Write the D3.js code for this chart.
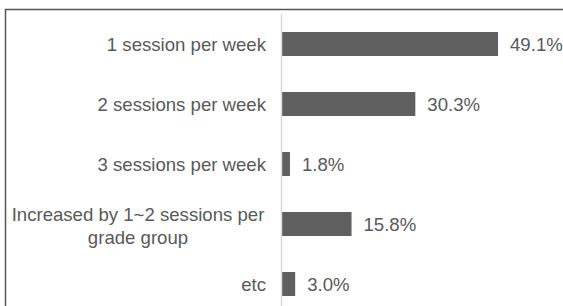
<!DOCTYPE html>
<html>
<head>
<meta charset="utf-8">
<script src="https://cdn.jsdelivr.net/npm/d3@7"></script>
<style>
  html, body { margin: 0; padding: 0; background: #fff; }
  svg { display: block; }
  text { font-family: "Liberation Sans", Arial, sans-serif; fill: #595959; }
</style>
</head>
<body>
<div id="chart"></div>
<script>
var categories = [
    "1 session per week",
    "2 sessions per week",
    "3 sessions per week",
    "Increased by 1~2 sessions per\ngrade group",
    "etc"
];
var values = [49.1, 30.3, 1.8, 15.8, 3.0];

var width = 563, height = 306,
    axisX = 282,
    fontSize = "18.6px";

var svg = d3.select("#chart").append("svg")
        .attr("width", width)
        .attr("height", height);

var yScale = d3.scaleBand()
        .domain(categories)
        .range([14, 314])
        .paddingInner(0.6)
        .paddingOuter(0.3);

var xScale = d3.scaleLinear()
        .domain([0, 50])
        .range([axisX, axisX + 220]);

// frame (top and left edges only)
svg.append("path")
    .attr("d", "M5.5,306V9.5H563")
    .attr("fill", "none")
    .attr("stroke", "#555")
    .attr("stroke-width", 1.5);

var data = categories.map(function(c, i) {
    return { label: c, value: values[i] };
});

svg.selectAll(".bar")
    .data(data)
    .enter()
    .append("rect")
    .attr("class", "bar")
    .attr("x", xScale(0))
    .attr("y", function(d) { return yScale(d.label); })
    .attr("width", function(d) { return xScale(d.value) - xScale(0); })
    .attr("height", yScale.bandwidth())
    .attr("fill", "#5f5f5f");

// vertical axis line
svg.append("line")
    .attr("x1", axisX - 0.5).attr("x2", axisX - 0.5)
    .attr("y1", 14).attr("y2", height)
    .attr("stroke", "#d9d9d9")
    .attr("stroke-width", 1.5);

// category labels
var catLabels = svg.selectAll(".cat")
        .data(data)
        .enter()
        .append("text")
        .attr("class", "cat")
        .style("font-size", fontSize);

catLabels.each(function(d) {
    var lines = d.label.split("\n"),
        t = d3.select(this),
        cy = yScale(d.label) + yScale.bandwidth() / 2,
        lh = 23;
    if (lines.length === 1) {
        t.attr("x", 266).attr("y", cy).attr("dy", "0.35em")
            .attr("text-anchor", "end")
            .text(lines[0]);
    } else {
        t.attr("text-anchor", "middle");
        lines.forEach(function(l, j) {
            t.append("tspan")
                .attr("x", 138)
                .attr("y", cy + 2 + (j - (lines.length - 1) / 2) * lh)
                .attr("dy", "0.35em")
                .text(l);
        });
    }
});

// value labels
svg.selectAll(".val")
    .data(data)
    .enter()
    .append("text")
    .attr("class", "val")
    .attr("x", function(d) { return xScale(d.value) + 12; })
    .attr("y", function(d) { return yScale(d.label) + yScale.bandwidth() / 2; })
    .attr("dy", "0.35em")
    .style("font-size", fontSize)
    .text(function(d) { return d3.format(".1f")(d.value) + "%"; });
</script>
</body>
</html>
